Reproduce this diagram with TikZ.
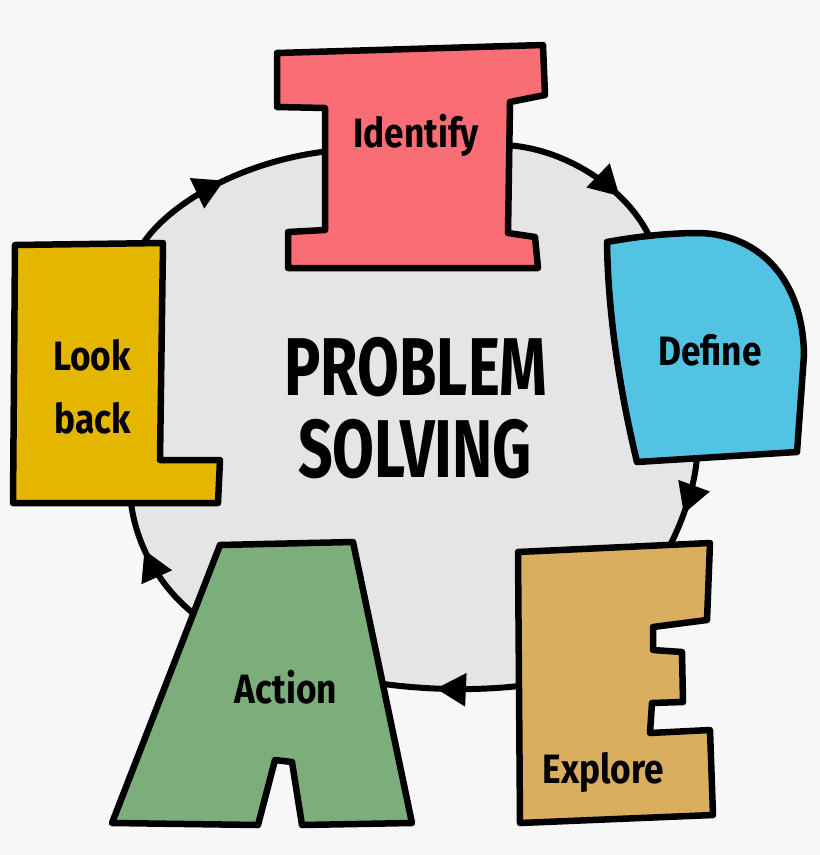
\documentclass[tikz,border=0pt]{standalone}
\usepackage{fontspec}
\setmainfont{Fira Sans}
\usetikzlibrary{arrows.meta, decorations.markings}

\definecolor{paper}{HTML}{F7F7F7}
\definecolor{ringgray}{HTML}{E5E5E5}
\definecolor{icol}{HTML}{F96E74}
\definecolor{dcol}{HTML}{53C3E3}
\definecolor{ecol}{HTML}{D9AE5E}
\definecolor{acol}{HTML}{7BAE7B}
\definecolor{lcol}{HTML}{E4B600}

\begin{document}
\begin{tikzpicture}[
    x=1pt, y=-1pt, % pixel grid, y grows downwards
    outline/.style={draw=black, line width=6.5pt, line join=round},
    loopline/.style={draw=black, line width=6pt, line cap=round,
        postaction={decorate},
        decoration={markings, mark=at position #1 with {\arrow{Triangle[length=30pt, width=32pt]}}}},
    loopline/.default=0.5,
    tag/.style={font=\bfseries\fontsize{41}{48}\selectfont, xscale=0.86, anchor=base},
    title/.style={font=\bfseries\fontsize{82}{90}\selectfont, xscale=0.74, anchor=base}
]
    \useasboundingbox (0,0) rectangle (820,855);
    \fill[paper] (0,0) rectangle (820,855);

    % where the loop goes into and out of each letter
    \coordinate (iin) at (340,150);
    \coordinate (iout) at (495,145);
    \coordinate (din) at (655,250);
    \coordinate (dout) at (697,445);
    \coordinate (ein) at (662,560);
    \coordinate (eout) at (535,684);
    \coordinate (ain) at (370,682);
    \coordinate (aout) at (210,625);
    \coordinate (lin) at (130,490);
    \coordinate (lout) at (135,258);

    % the grey ring
    \fill[ringgray] (iin) -- (iout)
        .. controls (560,143) and (635,190) .. (din) -- (dout)
        .. controls (699,480) and (680,530) .. (ein) -- (eout)
        .. controls (480,692) and (420,690) .. (ain) -- (aout)
        .. controls (165,598) and (132,545) .. (lin) -- (lout)
        .. controls (155,210) and (240,158) .. cycle;

    % the clockwise loop
    \draw[loopline=0.68] (iout) .. controls (560,143) and (635,190) .. (din);
    \draw[loopline=0.58] (dout) .. controls (699,480) and (680,530) .. (ein);
    \draw[loopline=0.6] (eout) .. controls (480,692) and (420,690) .. (ain);
    \draw[loopline=0.62] (aout) .. controls (165,598) and (132,545) .. (lin);
    \draw[loopline=0.5] (lout) .. controls (155,210) and (240,158) .. (iin);

    % the letters
    \draw[outline, fill=icol] (277,53) -- (543,45) -- (545,95) -- (510,102) -- (508,233)
        -- (535,237) -- (538,268) -- (288,268) -- (288,232) -- (325,230) -- (325,108)
        -- (277,107) -- cycle;
    \draw[outline, fill=dcol] (607,242) .. controls (640,236) and (670,233) .. (700,233)
        .. controls (760,235) and (803,280) .. (804,355) -- (797,452) -- (637,462)
        .. controls (622,400) and (608,320) .. cycle;
    \draw[outline, fill=ecol] (518,552) -- (710,543) -- (707,620) -- (653,627) -- (653,650)
        -- (682,652) -- (683,702) -- (652,703) -- (650,733) -- (710,730) -- (713,815)
        -- (520,823) -- cycle;
    \draw[outline, fill=acol] (220,545) -- (353,542) -- (412,823) -- (302,825) -- (292,762)
        -- (275,760) -- (258,825) -- (112,823) -- cycle;
    \draw[outline, fill=lcol] (15,245) -- (163,243) -- (160,460) -- (220,460) -- (218,503)
        -- (13,503) -- cycle;

    % the words
    \node[tag] (identify) at (416,147) {Identify};
    \node[tag] (define) at (710,365) {Define};
    \node[tag] (explore) at (603,783) {Explore};
    \node[tag] (action) at (286,703) {Action};
    \node[tag] (look) at (92,370) {Look};
    \node[tag] (back) at (93,433) {back};

    \node[title] (problem) at (416,395) {PROBLEM};
    \node[title] (solving) at (415,477) {SOLVING};
\end{tikzpicture}
\end{document}
